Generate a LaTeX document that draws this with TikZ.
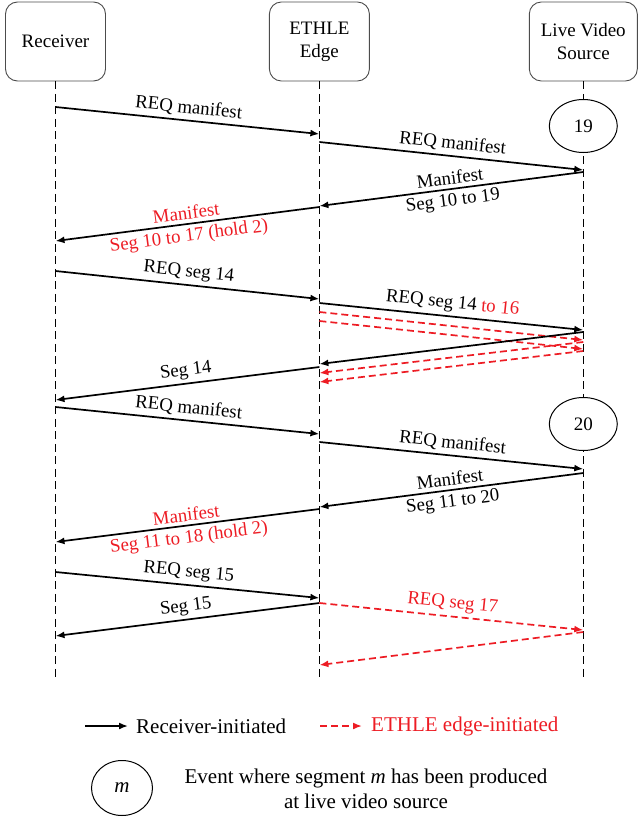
\documentclass[tikz,border=0pt]{standalone}
\usepackage{fontspec}
\setmainfont{Liberation Serif}
\usetikzlibrary{shapes,arrows.meta,positioning}
\definecolor{ethred}{RGB}{237,28,36}

\begin{document}
\begin{tikzpicture}[x=1pt, y=-1pt, >={Latex[length=9pt,width=7pt]},
    actor/.style={rectangle, draw=black!70, line width=0.9pt, rounded corners=12pt, minimum width=100pt, minimum height=79pt, align=center, font=\fontsize{19}{23}\selectfont},
    life/.style={line width=1.6pt, dash pattern=on 8pt off 4.5pt},
    event/.style={ellipse, draw, line width=1pt, fill=white, minimum width=68pt, minimum height=53pt, font=\fontsize{19}{22}\selectfont},
    msg/.style={->, line width=1.7pt},
    push/.style={->, line width=1.7pt, ethred, dash pattern=on 7pt off 4pt},
    lbl/.style={sloped, inner sep=3.5pt, font=\fontsize{18.8}{20}\selectfont},
    keytxt/.style={inner sep=1pt, font=\fontsize{21}{25}\selectfont}]

    \useasboundingbox (0,0) rectangle (637,819);

    \node [actor] (rcv) at (55.5,41.5) {Receiver};
    \node [actor, right=163pt of rcv] (edge) {ETHLE\\Edge};
    \node [actor, right=159pt of edge, minimum width=108pt] (src) {Live Video\\Source};

    % lifelines
    \foreach \a in {rcv,edge,src} {
        \coordinate (\a-end) at (\a.south |- 0,678);
        \draw [life] (\a.south) -- (\a-end);
    }
    \node [event] (ev19) at (src |- 0,126) {19};
    \node [event] (ev20) at (src |- 0,424) {20};

    % points on the lifelines
    \foreach \y in {107,241,271,400,407,542,572,636}
        \coordinate (r\y) at (rcv |- 0,\y);
    \foreach \y in {134,142,206,207,299,303,312,321,364,367,373,382,434,442,507,509,598,603,665}
        \coordinate (e\y) at (edge |- 0,\y);
    \foreach \y in {170,172,330,332,340,342,349,351,469,473,630,632}
        \coordinate (s\y) at (src |- 0,\y);

    \draw [msg] (r107) -- node[lbl, above]{REQ manifest} (e134);
    \draw [msg] (e142) -- node[lbl, above]{REQ manifest} (s170);
    \draw [msg] (s172) -- node[lbl, above]{Manifest} node[lbl, below]{Seg 10 to 19} (e206);
    \draw [msg] (e207) -- node[lbl, above, ethred]{Manifest} node[lbl, below, ethred]{Seg 10 to 17 (hold 2)} (r241);
    \draw [msg] (r271) -- node[lbl, above]{REQ seg 14} (e299);
    \draw [msg] (e303) -- node[lbl, above]{REQ seg 14 \textcolor{ethred}{to 16}} (s330);
    \draw [push] (e312) -- (s340);
    \draw [push] (e321) -- (s349);
    \draw [msg] (s332) -- (e364);
    \draw [push] (s342) -- (e373);
    \draw [push] (s351) -- (e382);
    \draw [msg] (e367) -- node[lbl, above]{Seg 14} (r400);

    \draw [msg] (r407) -- node[lbl, above]{REQ manifest} (e434);
    \draw [msg] (e442) -- node[lbl, above]{REQ manifest} (s469);
    \draw [msg] (s473) -- node[lbl, above]{Manifest} node[lbl, below]{Seg 11 to 20} (e507);
    \draw [msg] (e509) -- node[lbl, above, ethred]{Manifest} node[lbl, below, ethred]{Seg 11 to 18 (hold 2)} (r542);
    \draw [msg] (r572) -- node[lbl, above]{REQ seg 15} (e598);
    \draw [msg] (e603) -- node[lbl, above]{Seg 15} (r636);
    \draw [push] (e603) -- node[lbl, above, ethred]{REQ seg 17} (s630);
    \draw [push] (s632) -- (e665);

    % legend
    \coordinate (ka) at (85,726);
    \coordinate (kb) at (128,726);
    \coordinate (kc) at (320,726);
    \coordinate (kd) at (362,726);
    \draw [msg] (ka) -- (kb);
    \node [keytxt, right=7pt of kb] (kt1) {Receiver-initiated};
    \draw [push] (kc) -- (kd);
    \node [keytxt, right=8pt of kd, text=ethred] (kt2) {ETHLE edge-initiated};
    \node [event, minimum width=61pt, minimum height=55pt, font=\fontsize{21}{25}\selectfont\itshape] (km) at (122,788) {m};
    \node [keytxt, align=center] (kev) at (366,789) {Event where segment \textit{m} has been produced\\at live video source};
\end{tikzpicture}
\end{document}
